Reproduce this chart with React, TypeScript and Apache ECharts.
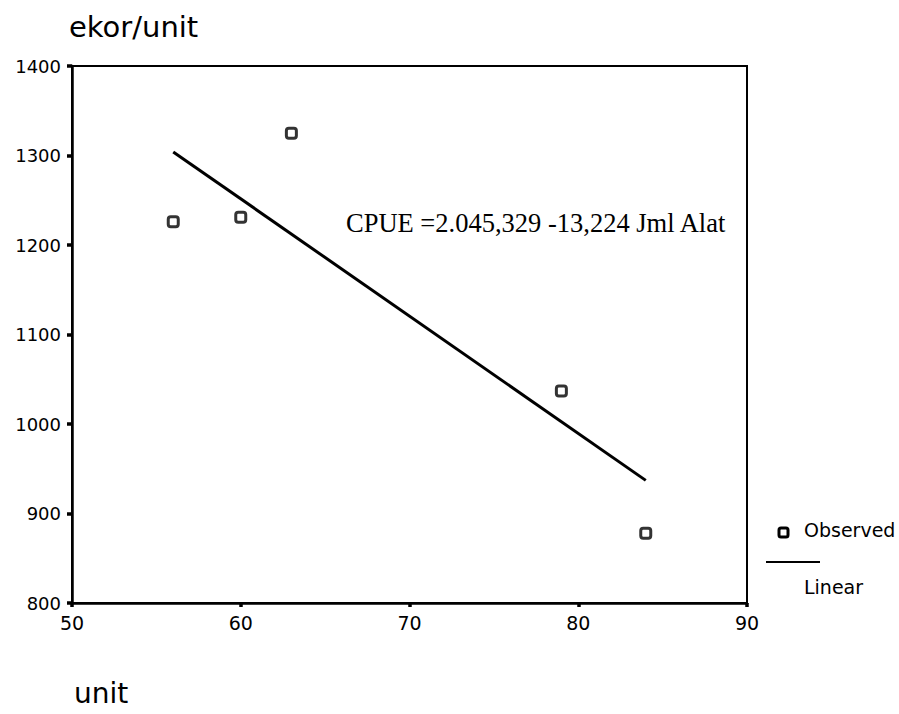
import React, { useEffect, useRef } from "react";
import * as echarts from "echarts";

const jmlAlat = [56, 60, 63, 79, 84];
const cpue = [1226, 1231, 1325, 1037, 878];
const linearX = [56, 84];
const linearY = [1304, 937];
const xTicks = [50, 60, 70, 80, 90];
const yTicks = [800, 900, 1000, 1100, 1200, 1300, 1400];
const yTitle = "ekor/unit";
const xTitle = "unit";
const equation = "CPUE =2.045,329 -13,224 Jml Alat";
const legendObserved = "Observed";
const legendLinear = "Linear";

export default function App() {
  const ref = useRef<HTMLDivElement>(null);
  useEffect(() => {
    document.body.style.margin = "0";
    const chart = echarts.init(ref.current!, null, { renderer: "svg" });
    const sans = "DejaVu Sans";
    chart.setOption({
      animation: false,
      backgroundColor: "#fff",
      grid: {
        left: 72,
        top: 66,
        width: 675,
        height: 537,
        show: true,
        borderColor: "#000",
        borderWidth: 2,
        backgroundColor: "transparent",
      },
      xAxis: {
        type: "value",
        min: xTicks[0],
        max: xTicks[xTicks.length - 1],
        interval: 10,
        axisLine: { show: true, lineStyle: { color: "#000", width: 2.5 } },
        axisTick: { show: true, length: 4, lineStyle: { color: "#000", width: 3.5 } },
        axisLabel: {
          color: "#000",
          fontFamily: sans,
          fontSize: 19,
          margin: 10,
          formatter: (v: number) => String(v),
        },
        splitLine: { show: false },
      },
      yAxis: {
        type: "value",
        min: yTicks[0],
        max: yTicks[yTicks.length - 1],
        interval: 100,
        axisLine: { show: true, lineStyle: { color: "#000", width: 2.5 } },
        axisTick: { show: true, length: 5, lineStyle: { color: "#000", width: 3.5 } },
        axisLabel: {
          color: "#000",
          fontFamily: sans,
          fontSize: 18,
          margin: 11,
          formatter: (v: number) => String(v),
        },
        splitLine: { show: false },
      },
      series: [
        {
          name: legendLinear,
          type: "line",
          data: linearX.map((x, i) => [x, linearY[i]]),
          showSymbol: false,
          lineStyle: { color: "#000", width: 3 },
          z: 2,
        },
        {
          name: legendObserved,
          type: "scatter",
          data: jmlAlat.map((x, i) => [x, cpue[i]]),
          symbol: "roundRect",
          symbolSize: 10,
          itemStyle: { color: "#fff", borderColor: "#000", borderWidth: 3 },
          z: 3,
        },
      ],
      graphic: [
        {
          type: "text",
          left: 69,
          top: 12,
          style: { text: yTitle, fontFamily: sans, fontSize: 29, fill: "#000" },
        },
        {
          type: "text",
          left: 74,
          top: 679,
          style: { text: xTitle, fontFamily: sans, fontSize: 28, fill: "#000" },
        },
        {
          type: "text",
          left: 346,
          top: 209,
          style: { text: equation, fontFamily: "Liberation Serif", fontSize: 26.5, fill: "#000" },
        },
        {
          type: "rect",
          shape: { x: 779, y: 528, width: 9, height: 9, r: 2 },
          style: { fill: "#fff", stroke: "#000", lineWidth: 3 },
        },
        {
          type: "text",
          left: 804,
          top: 520,
          style: { text: legendObserved, fontFamily: sans, fontSize: 19, fill: "#000" },
        },
        {
          type: "line",
          shape: { x1: 766, y1: 562, x2: 820, y2: 562 },
          style: { stroke: "#000", lineWidth: 2 },
        },
        {
          type: "text",
          left: 804,
          top: 577,
          style: { text: legendLinear, fontFamily: sans, fontSize: 19, fill: "#000" },
        },
      ],
    });
    return () => chart.dispose();
  }, []);
  return <div ref={ref} style={{ width: 899, height: 714 }} />;
}
